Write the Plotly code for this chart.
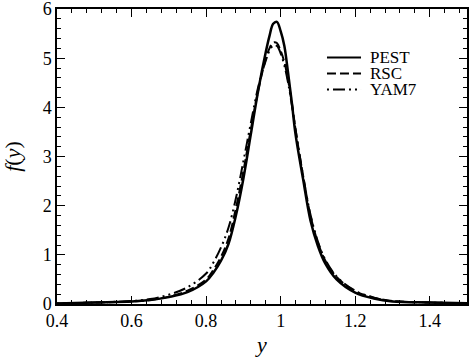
import plotly.graph_objects as go

# distribution values
x_vals = [0.4, 0.5, 0.6, 0.65, 0.7, 0.75, 0.8, 0.82, 0.84, 0.86, 0.88, 0.9,
          0.92, 0.94, 0.96, 0.97, 0.98, 0.99, 1.0, 1.01, 1.02, 1.03, 1.04,
          1.06, 1.08, 1.1, 1.12, 1.15, 1.2, 1.25, 1.3, 1.4, 1.5]

pest = [0.01, 0.03, 0.05, 0.08, 0.14, 0.24, 0.46, 0.64, 0.88, 1.22, 1.80, 2.55,
        3.45, 4.35, 5.12, 5.45, 5.70, 5.74, 5.55, 5.25, 4.70, 4.10, 3.45,
        2.55, 1.70, 1.18, 0.82, 0.50, 0.23, 0.11, 0.05, 0.03, 0.015]

rsc = [0.01, 0.03, 0.05, 0.08, 0.15, 0.27, 0.50, 0.70, 0.96, 1.33, 1.95, 2.70,
       3.55, 4.35, 4.98, 5.20, 5.32, 5.31, 5.15, 4.92, 4.55, 4.10, 3.55,
       2.62, 1.80, 1.25, 0.88, 0.55, 0.26, 0.13, 0.06, 0.03, 0.015]

yam7 = [0.01, 0.03, 0.06, 0.10, 0.19, 0.34, 0.62, 0.85, 1.15, 1.55, 2.15, 2.90,
        3.68, 4.42, 4.95, 5.15, 5.26, 5.25, 5.10, 4.85, 4.50, 4.05, 3.55,
        2.62, 1.82, 1.27, 0.90, 0.56, 0.27, 0.13, 0.06, 0.03, 0.015]

series = [
    ("PEST", pest, "solid", 2.5),
    ("RSC", rsc, "9px,4px", 2),
    ("YAM7", yam7, "2px,4px,12px,4px,2px,4px", 2),
]

font_name = "Liberation Serif"

# hand-made legend placement (paper coords), rows 16px apart
legend_x0 = 0.6585
legend_x1 = 0.7415
legend_text_x = 0.761
legend_top = 0.8356
legend_step = 0.0542


def main():
    fig = go.Figure()
    for i, (name, vals, dash, width) in enumerate(series):
        fig.add_trace(
            go.Scatter(
                name=name,
                x=x_vals,
                y=vals,
                mode="lines",
                showlegend=False,
                line=dict(color="black", dash=dash, width=width, shape="spline"),
            )
        )
        row_y = legend_top - i * legend_step
        fig.add_shape(
            type="line", xref="paper", yref="paper",
            x0=legend_x0, x1=legend_x1, y0=row_y, y1=row_y,
            line=dict(color="black", dash=dash, width=2),
        )
        fig.add_annotation(
            xref="paper", yref="paper", x=legend_text_x, y=row_y,
            text=name, showarrow=False, xanchor="left", yanchor="middle",
            borderpad=0,
            font=dict(family=font_name, size=17, color="black"),
        )

    axis_common = dict(
        showline=True,
        linecolor="black",
        linewidth=1.5,
        mirror="allticks",
        ticks="inside",
        ticklen=8,
        tickwidth=1,
        tickcolor="black",
        showgrid=False,
        zeroline=False,
        automargin=False,
        ticklabeloverflow="allow",
        tickfont=dict(family=font_name, size=18, color="black"),
    )

    fig.update_xaxes(
        range=[0.4, 1.5],
        tick0=0.4,
        dtick=0.2,
        minor=dict(dtick=0.04, tick0=0.4, ticks="inside", ticklen=4, tickcolor="black"),
        title=dict(text="<i>y</i>", font=dict(family=font_name, size=22, color="black"),
                   standoff=6),
        **axis_common,
    )
    fig.update_yaxes(
        range=[0, 6.001],
        tick0=0,
        dtick=1,
        minor=dict(dtick=0.2, ticks="inside", ticklen=4, tickcolor="black"),
        title=dict(text="<i>f</i>(<i>y</i>)", font=dict(family=font_name, size=22, color="black"),
                   standoff=16),
        **axis_common,
    )

    fig.update_layout(
        width=469,
        height=359,
        margin=dict(l=57, r=2, t=9, b=55),
        paper_bgcolor="white",
        plot_bgcolor="white",
        font=dict(family=font_name, color="black"),
        showlegend=False,
    )

    # drop the default body margin so the figure sits at the page corner
    fig.write_html(
        "out.html",
        config={"displayModeBar": False},
        post_script="document.body.style.margin='0';",
    )


if __name__ == "__main__":
    main()
